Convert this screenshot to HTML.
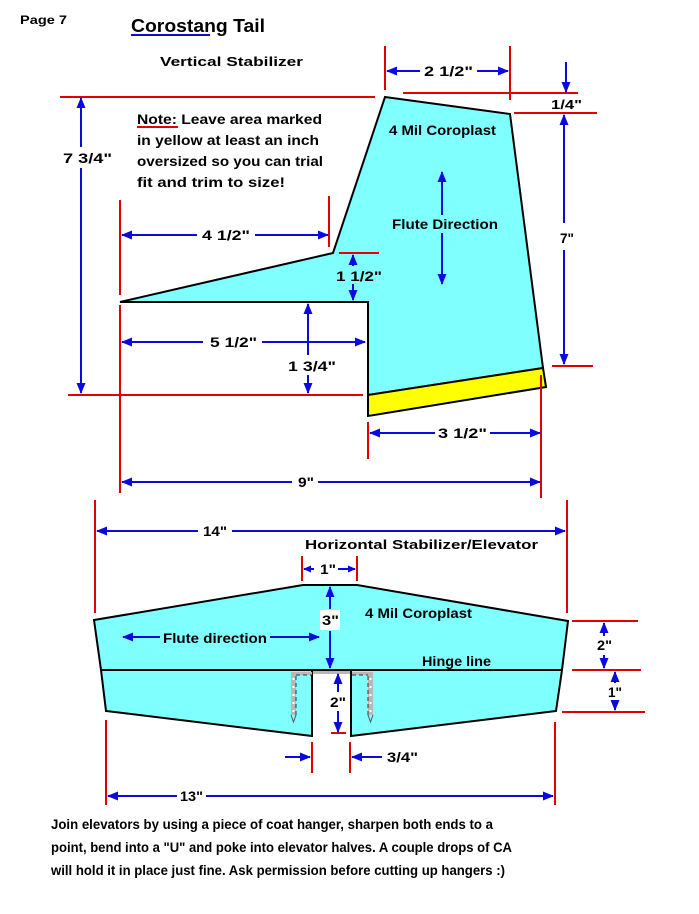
<!DOCTYPE html>
<html><head><meta charset="utf-8"><style>
html,body{margin:0;padding:0;background:#fff;}
svg{display:block;}
text{font-family:"Liberation Sans",sans-serif;font-weight:bold;fill:#000;}
</style></head><body>
<svg width="699" height="914" viewBox="0 0 699 914" xmlns="http://www.w3.org/2000/svg">
<defs>
<marker id="a" markerUnits="userSpaceOnUse" markerWidth="11" markerHeight="9" refX="10" refY="4.5" orient="auto"><path d="M0,0 L11,4.5 L0,9 z" fill="#0a0adc"/></marker>
<marker id="s" markerUnits="userSpaceOnUse" markerWidth="8" markerHeight="7" refX="7" refY="3.5" orient="auto"><path d="M0,0 L8,3.5 L0,7 z" fill="#0a0adc"/></marker>
</defs>

<!-- Header -->
<text x="20" y="24" font-size="12" textLength="47" lengthAdjust="spacingAndGlyphs">Page 7</text>
<text x="131" y="32" font-size="18" textLength="134" lengthAdjust="spacingAndGlyphs">Corostang Tail</text>
<line x1="131" y1="35" x2="210" y2="35" stroke="#0a0adc" stroke-width="2"/>
<text x="160" y="66" font-size="13" textLength="143" lengthAdjust="spacingAndGlyphs">Vertical Stabilizer</text>

<!-- Vertical stabilizer shape -->
<polygon points="385,97 510,114 543,368 368,395 368,302 120,302 333,253" fill="#80ffff" stroke="#000" stroke-width="2" stroke-linejoin="miter"/>
<polygon points="368,395 543,368 546,387 368,416" fill="#ffff00" stroke="#000" stroke-width="2"/>

<g stroke="#e00000" stroke-width="2" fill="none">
<line x1="60" y1="97" x2="375" y2="97"/>
<line x1="403" y1="93" x2="578" y2="93"/>
<line x1="514" y1="113" x2="597" y2="113"/>
<line x1="385" y1="46" x2="385" y2="90"/>
<line x1="510" y1="46" x2="510" y2="100"/>
<line x1="552" y1="366" x2="593" y2="366"/>
<line x1="120" y1="200" x2="120" y2="295"/>
<line x1="329" y1="196" x2="329" y2="247"/>
<line x1="339" y1="253" x2="379" y2="253"/>
<line x1="120" y1="305" x2="120" y2="493"/>
<line x1="68" y1="395" x2="363" y2="395"/>
<line x1="368" y1="422" x2="368" y2="459"/>
<line x1="541" y1="375" x2="541" y2="498"/>
<line x1="137" y1="127" x2="178" y2="127"/>
</g>

<g stroke="#0a0adc" stroke-width="2" fill="none">
<line x1="81" y1="147" x2="81" y2="98" marker-end="url(#a)"/>
<line x1="81" y1="168" x2="81" y2="393" marker-end="url(#a)"/>
<line x1="420" y1="71" x2="387" y2="71" marker-end="url(#a)"/>
<line x1="477" y1="71" x2="508" y2="71" marker-end="url(#a)"/>
<line x1="566" y1="62" x2="566" y2="92" marker-end="url(#a)"/>
<line x1="564" y1="223" x2="564" y2="115" marker-end="url(#a)"/>
<line x1="564" y1="250" x2="564" y2="364" marker-end="url(#a)"/>
<line x1="442" y1="215" x2="442" y2="172" marker-end="url(#a)"/>
<line x1="442" y1="233" x2="442" y2="284" marker-end="url(#a)"/>
<line x1="197" y1="235" x2="122" y2="235" marker-end="url(#a)"/>
<line x1="255" y1="235" x2="328" y2="235" marker-end="url(#a)"/>
<line x1="353" y1="266" x2="353" y2="255" marker-end="url(#a)"/>
<line x1="353" y1="284" x2="353" y2="300" marker-end="url(#a)"/>
<line x1="203" y1="342" x2="122" y2="342" marker-end="url(#a)"/>
<line x1="262" y1="342" x2="365" y2="342" marker-end="url(#a)"/>
<line x1="308" y1="355" x2="308" y2="304" marker-end="url(#a)"/>
<line x1="308" y1="375" x2="308" y2="393" marker-end="url(#a)"/>
<line x1="435" y1="433" x2="370" y2="433" marker-end="url(#a)"/>
<line x1="490" y1="433" x2="540" y2="433" marker-end="url(#a)"/>
<line x1="292" y1="482" x2="122" y2="482" marker-end="url(#a)"/>
<line x1="318" y1="482" x2="540" y2="482" marker-end="url(#a)"/>
</g>

<text x="63" y="163" font-size="14" textLength="49" lengthAdjust="spacingAndGlyphs">7 3/4"</text>
<text x="424" y="76" font-size="14" textLength="49" lengthAdjust="spacingAndGlyphs">2 1/2"</text>
<text x="551" y="109" font-size="13" textLength="31" lengthAdjust="spacingAndGlyphs">1/4"</text>
<text x="560" y="243" font-size="14" textLength="14" lengthAdjust="spacingAndGlyphs">7"</text>
<text x="389" y="135" font-size="14" textLength="107" lengthAdjust="spacingAndGlyphs">4 Mil Coroplast</text>
<text x="392" y="229" font-size="14" textLength="106" lengthAdjust="spacingAndGlyphs">Flute Direction</text>
<text x="137" y="124" font-size="14" textLength="185" lengthAdjust="spacingAndGlyphs">Note: Leave area marked</text>
<text x="137" y="145" font-size="14" textLength="182" lengthAdjust="spacingAndGlyphs">in yellow at least an inch</text>
<text x="137" y="166" font-size="14" textLength="186" lengthAdjust="spacingAndGlyphs">oversized so you can trial</text>
<text x="137" y="187" font-size="14" textLength="148" lengthAdjust="spacingAndGlyphs">fit and trim to size!</text>
<text x="202" y="240" font-size="14" textLength="48" lengthAdjust="spacingAndGlyphs">4 1/2"</text>
<text x="336" y="281" font-size="14" textLength="46" lengthAdjust="spacingAndGlyphs">1 1/2"</text>
<text x="210" y="347" font-size="14" textLength="47" lengthAdjust="spacingAndGlyphs">5 1/2"</text>
<text x="288" y="371" font-size="14" textLength="48" lengthAdjust="spacingAndGlyphs">1 3/4"</text>
<text x="438" y="438" font-size="14" textLength="49" lengthAdjust="spacingAndGlyphs">3 1/2"</text>
<text x="298" y="487" font-size="14" textLength="16" lengthAdjust="spacingAndGlyphs">9"</text>

<!-- Horizontal stabilizer -->
<polygon points="94,620 303,585 357,585 568,621 562,670 556,711 351,736 351,671 312,671 312,736 106,711 101,670" fill="#80ffff" stroke="#000" stroke-width="2"/>
<line x1="101" y1="670" x2="562" y2="670" stroke="#000" stroke-width="2"/>
<rect x="313" y="671" width="37" height="3" fill="#b8b8b8"/>
<g>
<rect x="291" y="673" width="5" height="42" fill="#b8b8b8"/>
<rect x="368" y="673" width="5" height="42" fill="#b8b8b8"/>
<rect x="291" y="672" width="21" height="3" fill="#b8b8b8"/>
<rect x="352" y="672" width="21" height="3" fill="#b8b8b8"/>
<g stroke="#fff" stroke-width="2" stroke-dasharray="2 6">
<line x1="293.5" y1="678" x2="293.5" y2="715"/>
<line x1="370.5" y1="678" x2="370.5" y2="715"/>
</g>
<g stroke="#333" stroke-width="1" stroke-dasharray="4 3" fill="none">
<line x1="296" y1="675" x2="312" y2="675"/>
<line x1="352" y1="675" x2="368" y2="675"/>
<line x1="296" y1="676" x2="296" y2="715"/>
<line x1="368" y1="676" x2="368" y2="715"/>
</g>
<polyline points="291,715 293.5,722 296,715" fill="none" stroke="#555" stroke-width="1"/>
<polyline points="368,715 370.5,722 373,715" fill="none" stroke="#555" stroke-width="1"/>
</g>

<g stroke="#e00000" stroke-width="2" fill="none">
<line x1="95" y1="500" x2="95" y2="613"/>
<line x1="567" y1="500" x2="567" y2="613"/>
<line x1="302" y1="556" x2="302" y2="581"/>
<line x1="357" y1="556" x2="357" y2="581"/>
<line x1="572" y1="621" x2="638" y2="621"/>
<line x1="572" y1="670" x2="641" y2="670"/>
<line x1="562" y1="712" x2="645" y2="712"/>
<line x1="331" y1="733" x2="346" y2="733"/>
<line x1="312" y1="742" x2="312" y2="773"/>
<line x1="350" y1="742" x2="350" y2="773"/>
<line x1="106" y1="720" x2="106" y2="805"/>
<line x1="555" y1="722" x2="555" y2="805"/>
</g>

<rect x="320" y="610" width="20" height="20" fill="#fff"/>

<g stroke="#0a0adc" stroke-width="2" fill="none">
<line x1="198" y1="531" x2="97" y2="531" marker-end="url(#a)"/>
<line x1="232" y1="531" x2="565" y2="531" marker-end="url(#a)"/>
<line x1="314" y1="569" x2="304" y2="569" marker-end="url(#s)"/>
<line x1="338" y1="569" x2="355" y2="569" marker-end="url(#s)"/>
<line x1="330" y1="609" x2="330" y2="587" marker-end="url(#a)"/>
<line x1="330" y1="631" x2="330" y2="668" marker-end="url(#a)"/>
<line x1="160" y1="637" x2="123" y2="637" marker-end="url(#a)"/>
<line x1="270" y1="637" x2="319" y2="637" marker-end="url(#a)"/>
<line x1="604" y1="636" x2="604" y2="623" marker-end="url(#a)"/>
<line x1="604" y1="655" x2="604" y2="668" marker-end="url(#a)"/>
<line x1="615" y1="683" x2="615" y2="672" marker-end="url(#a)"/>
<line x1="615" y1="702" x2="615" y2="710" marker-end="url(#a)"/>
<line x1="338" y1="692" x2="338" y2="674" marker-end="url(#a)"/>
<line x1="338" y1="711" x2="338" y2="732" marker-end="url(#a)"/>
<line x1="285" y1="757" x2="310" y2="757" marker-end="url(#a)"/>
<line x1="382" y1="757" x2="352" y2="757" marker-end="url(#a)"/>
<line x1="177" y1="796" x2="108" y2="796" marker-end="url(#a)"/>
<line x1="206" y1="796" x2="553" y2="796" marker-end="url(#a)"/>
</g>

<text x="203" y="536" font-size="14" textLength="24" lengthAdjust="spacingAndGlyphs">14"</text>
<text x="305" y="549" font-size="13" textLength="233" lengthAdjust="spacingAndGlyphs">Horizontal Stabilizer/Elevator</text>
<text x="320" y="574" font-size="14" textLength="16" lengthAdjust="spacingAndGlyphs">1"</text>
<text x="365" y="618" font-size="14" textLength="107" lengthAdjust="spacingAndGlyphs">4 Mil Coroplast</text>
<text x="322" y="625" font-size="14" textLength="17" lengthAdjust="spacingAndGlyphs">3"</text>
<text x="163" y="643" font-size="14" textLength="104" lengthAdjust="spacingAndGlyphs">Flute direction</text>
<text x="422" y="666" font-size="14" textLength="69" lengthAdjust="spacingAndGlyphs">Hinge line</text>
<text x="597" y="650" font-size="14" textLength="15" lengthAdjust="spacingAndGlyphs">2"</text>
<text x="608" y="697" font-size="14" textLength="14" lengthAdjust="spacingAndGlyphs">1"</text>
<text x="330" y="707" font-size="14" textLength="16" lengthAdjust="spacingAndGlyphs">2"</text>
<text x="387" y="762" font-size="14" textLength="31" lengthAdjust="spacingAndGlyphs">3/4"</text>
<text x="180" y="801" font-size="14" textLength="23" lengthAdjust="spacingAndGlyphs">13"</text>

<text x="51" y="829" font-size="14" textLength="442" lengthAdjust="spacingAndGlyphs">Join elevators by using a piece of coat hanger, sharpen both ends to a</text>
<text x="51" y="852" font-size="14" textLength="461" lengthAdjust="spacingAndGlyphs">point, bend into a "U" and poke into elevator halves. A couple drops of CA</text>
<text x="51" y="875" font-size="14" textLength="454" lengthAdjust="spacingAndGlyphs">will hold it in place just fine. Ask permission before cutting up hangers :)</text>
</svg>
</body></html>
